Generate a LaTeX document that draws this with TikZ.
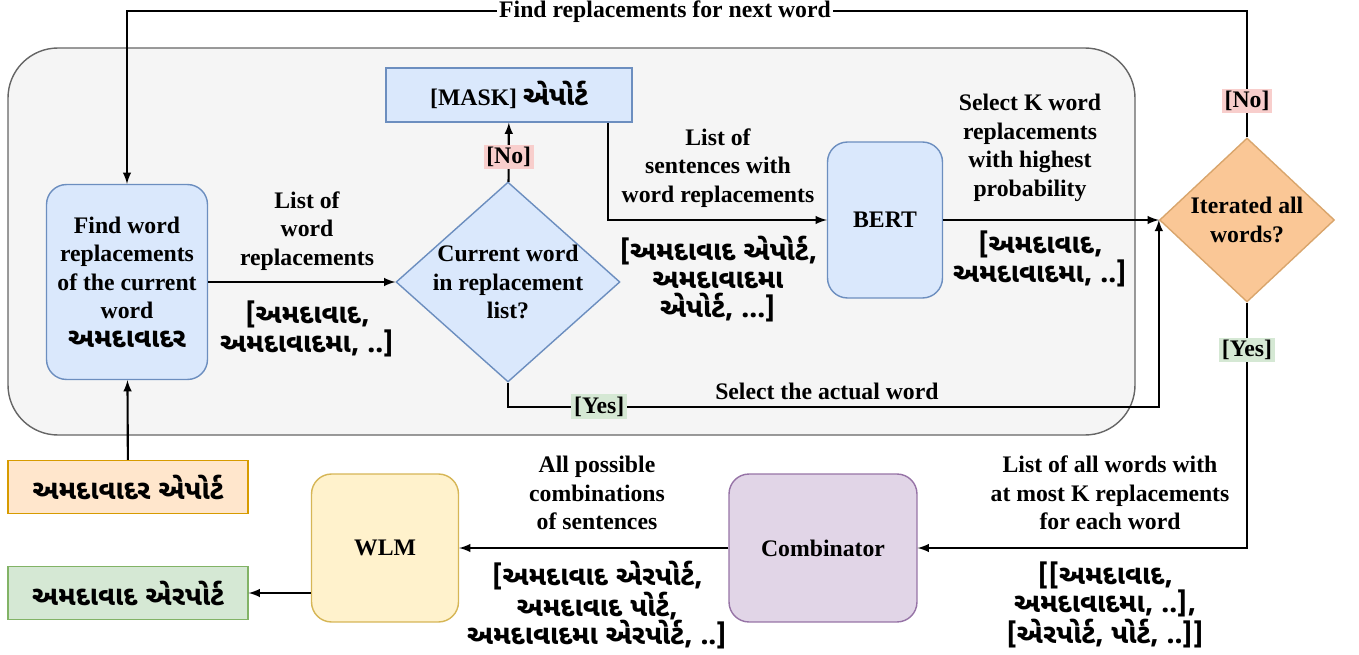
\documentclass[tikz,border=0pt]{standalone}
\usepackage{fontspec}
\setmainfont{Liberation Serif}
\newfontfamily\gujfont[Script=Gujarati]{Noto Sans Gujarati UI}
\newcommand\gj{\gujfont\fontsize{15.5}{16.2}\selectfont\bfseries}
\usetikzlibrary{shapes.geometric}

\definecolor{bluefill}{HTML}{DAE8FC}
\definecolor{blueline}{HTML}{6C8EBF}
\definecolor{orfill}{HTML}{FFE6CC}
\definecolor{orline}{HTML}{D79B00}
\definecolor{itfill}{HTML}{FAC796}
\definecolor{itline}{HTML}{D9A56C}
\definecolor{grfill}{HTML}{D5E8D4}
\definecolor{grline}{HTML}{82B366}
\definecolor{yefill}{HTML}{FFF2CC}
\definecolor{yeline}{HTML}{D6B656}
\definecolor{pufill}{HTML}{E1D5E7}
\definecolor{puline}{HTML}{9673A6}
\definecolor{nofill}{HTML}{F8CECC}
\definecolor{bgfill}{HTML}{F5F5F5}
\definecolor{bgline}{HTML}{666666}

\begin{document}
\begin{tikzpicture}[x=0.02cm, y=-0.02cm,
    font=\fontsize{13.5}{16.2}\selectfont\bfseries,
    block/.style={draw, rounded corners=0.4cm, line width=0.8pt, align=center},
    plain/.style={draw, line width=0.8pt, align=center},
    choice/.style={diamond, draw, line width=0.8pt, inner sep=0pt},
    flow/.style={-latex, line width=1.2pt},
    no/.style={fill=nofill, inner sep=1.5pt},
    yes/.style={fill=grfill, inner sep=1.5pt},
    txt/.style={align=center},
    gtxt/.style={align=center, font=\gj}]
    \useasboundingbox (0,0) rectangle (1359,655);
    %
    \draw[bgline, fill=bgfill, rounded corners=1cm, line width=0.8pt] (8,48) rectangle (1135,435);
    %
    \node(find)[block, draw=blueline, fill=bluefill, minimum width=3.22cm, minimum height=3.9cm] at (127,282)
        {Find word\\replacements\\of the current\\word\\{\gj અમદાવાદર}};
    \node(check)[choice, draw=blueline, fill=bluefill, minimum width=4.48cm, minimum height=4cm] at (508,282){};
    \node[txt] at (check){Current word\\in replacement\\list?};
    \node(mask)[plain, draw=blueline, fill=bluefill, minimum width=4.92cm, minimum height=1.08cm] at (509,95)
        {[MASK] {\gj એપોર્ટ}};
    \node(bert)[block, draw=blueline, fill=bluefill, minimum width=2.3cm, minimum height=3.12cm] at (885,220){BERT};
    \node(iter)[choice, draw=itline, fill=itfill, minimum width=3.5cm, minimum height=3.28cm] at (1247,220){};
    \node[txt] at (iter){Iterated all\\words?};
    \node(comb)[block, draw=puline, fill=pufill, minimum width=3.76cm, minimum height=2.96cm] at (823,548){Combinator};
    \node(wlm)[block, draw=yeline, fill=yefill, minimum width=2.94cm, minimum height=2.96cm] at (385,548){WLM};
    \node(in)[plain, draw=orline, fill=orfill, minimum width=4.8cm, minimum height=1.06cm] at (128,487)
        {\gj અમદાવાદર એપોર્ટ};
    \node(out)[plain, draw=grline, fill=grfill, minimum width=4.8cm, minimum height=1.06cm] at (128,593)
        {\gj અમદાવાદ એરપોર્ટ};
    %
    \draw [flow](in)--(find);
    \draw [flow](find)--(check);
    \draw [flow](check)--node[no, pos=0.42]{[No]}(mask);
    \draw [flow]([xshift=-0.5cm]mask.south east)|-(bert);
    \draw [flow](bert)--(iter);
    \draw [flow](check.south)--++(0,24)-|node[yes, pos=0.07]{[Yes]}
        node[above, pos=0.245]{Select the actual word}(iter.west);
    \draw [flow](iter.north)--++(0,-126)-|(find.north);
    \draw [flow](iter.south)|-(comb);
    \draw [flow](comb)--(wlm);
    \draw [flow](wlm.west |- out.east)--(out);
    %
    \node[no] at (1247,101){[No]};
    \node[yes] at (1247,350){[Yes]};
    \node[fill=white, inner sep=1pt] at (665,12){Find replacements for next word};
    %
    \node[txt] at (307,231){List of\\word\\replacements};
    \node[gtxt] at (307,329){[અમદાવાદ,\\અમદાવાદમા, ..]};
    \node[txt] at (718,168){List of\\sentences with\\word replacements};
    \node[gtxt] at (718,279){[અમદાવાદ એપોર્ટ,\\અમદાવાદમા\\એપોર્ટ, ...]};
    \node[txt] at (1030,148){Select K word\\replacements\\with highest\\probability};
    \node[gtxt] at (1040,259){[અમદાવાદ,\\અમદાવાદમા, ..]};
    \node[txt] at (1110,493){List of all words with\\at most K replacements\\for each word};
    \node[gtxt] at (1105,605){[[અમદાવાદ,\\અમદાવાદમા, ..],\\{}[એરપોર્ટ, પોર્ટ, ..]]};
    \node[txt] at (597,493){All possible\\combinations\\of sentences};
    \node[gtxt] at (597,605){[અમદાવાદ એરપોર્ટ,\\અમદાવાદ પોર્ટ,\\અમદાવાદમા એરપોર્ટ, ..]};
\end{tikzpicture}
\end{document}
